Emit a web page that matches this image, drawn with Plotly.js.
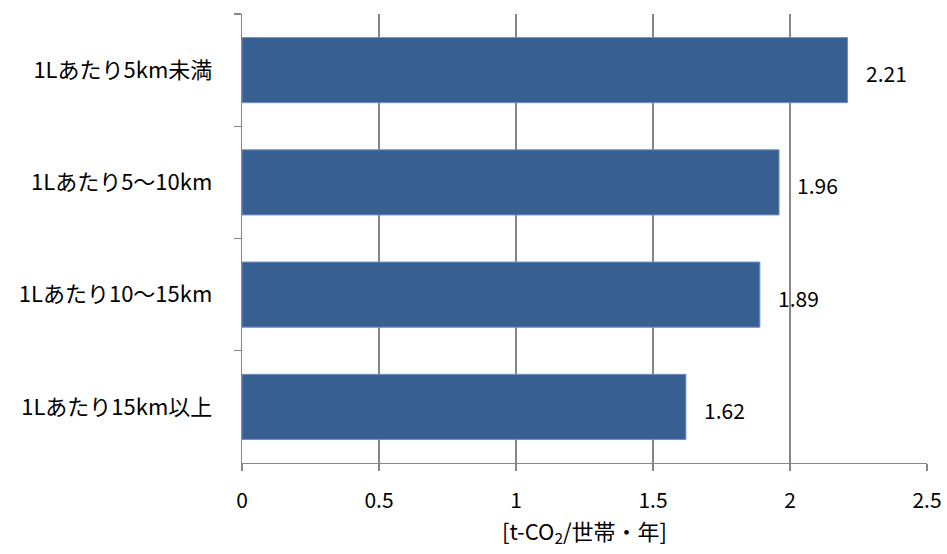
<!DOCTYPE html>
<html>
<head>
<meta charset="utf-8">
<script src="https://cdn.plot.ly/plotly-3.0.1.min.js"></script>
<style>html,body{margin:0;padding:0;background:#fff;}#chart{width:947px;height:554px;}</style>
</head>
<body>
<div id="chart"></div>
<script>
const categories = ["1Lあたり5km未満", "1Lあたり5～10km", "1Lあたり10～15km", "1Lあたり15km以上"];
const values = [2.21, 1.96, 1.89, 1.62];
const valueLabels = ["2.21", "1.96", "1.89", "1.62"];
const xTickVals = [0, 0.5, 1, 1.5, 2, 2.5];
const xTickText = ["0", "0.5", "1", "1.5", "2", "2.5"];
const xTitle = "[t-CO<sub>2</sub>/世帯・年]";

const FONT = "'Noto Sans CJK JP', 'Noto Sans', sans-serif";
const AXIS = "#868686";
const FS = 22;

const trace = {
  type: "bar",
  orientation: "h",
  x: values,
  y: categories,
  width: 0.58,
  marker: {color: "#375f91", line: {color: "#6f8fbf", width: 1}},
  hoverinfo: "skip"
};

const annotations = values.map((v, i) => ({
  x: v, y: categories[i], xref: "x", yref: "y",
  text: valueLabels[i], showarrow: false,
  xanchor: "left", yanchor: "middle", xshift: 16, yshift: -3,
  font: {family: FONT, size: 21, color: "#000"}
}));

const layout = {
  width: 947, height: 554,
  margin: {l: 242, r: 20, t: 14, b: 91},
  paper_bgcolor: "#fff", plot_bgcolor: "#fff",
  showlegend: false,
  font: {family: FONT, size: FS, color: "#000"},
  xaxis: {
    range: [0, 2.5],
    tickvals: xTickVals, ticktext: xTickText,
    showgrid: true, gridcolor: AXIS, gridwidth: 1.3,
    zeroline: false,
    showline: true, linecolor: AXIS, linewidth: 1.3,
    ticks: "outside", ticklen: 7, tickcolor: AXIS, tickwidth: 1.3,
    ticklabelstandoff: 11,
    tickfont: {family: FONT, size: 21, color: "#000"},
    title: {text: xTitle, font: {family: FONT, size: FS, color: "#000"}, standoff: 10},
    fixedrange: true
  },
  yaxis: {
    autorange: "reversed",
    type: "category",
    showgrid: false, zeroline: false,
    showline: true, linecolor: AXIS, linewidth: 1.3,
    ticks: "outside", tickson: "boundaries", ticklen: 7, tickcolor: AXIS, tickwidth: 1.3,
    ticklabelstandoff: 24,
    tickfont: {family: FONT, size: FS, color: "#000"},
    fixedrange: true
  },
  annotations: annotations
};

Plotly.newPlot("chart", [trace], layout, {displayModeBar: false, staticPlot: true});
</script>
</body>
</html>
